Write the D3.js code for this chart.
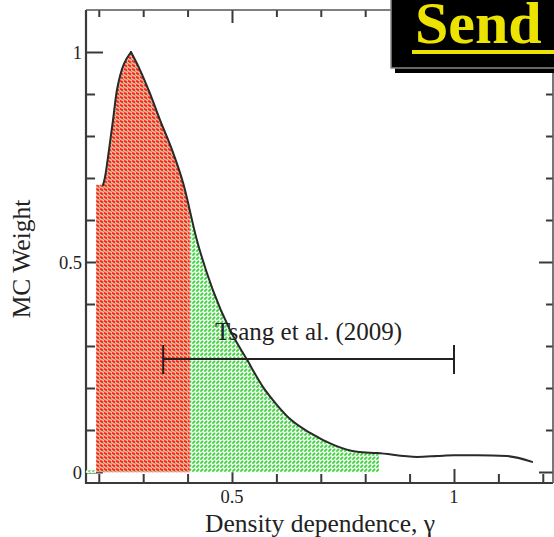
<!DOCTYPE html>
<html>
<head>
<meta charset="utf-8">
<script src="https://cdn.jsdelivr.net/npm/d3@7"></script>
<style>
  html, body { margin: 0; padding: 0; background: #fff; }
  svg { display: block; }
  text { font-family: "Liberation Serif", "DejaVu Serif", serif; }
</style>
</head>
<body>
<svg id="chart" width="554" height="537"></svg>
<script>
// Monte Carlo weight versus density dependence gamma
const gamma  = [0.2095, 0.214, 0.223, 0.232, 0.241, 0.2725, 0.293, 0.315, 0.338, 0.365, 0.390,
                0.421, 0.457, 0.4955, 0.534, 0.570, 0.601, 0.631, 0.676, 0.730, 0.782, 0.827,
                0.917, 0.962, 1.000, 1.052, 1.119, 1.176];
const weight = [0.683, 0.702, 0.767, 0.838, 0.910, 1.000, 0.957, 0.902, 0.838, 0.767, 0.688,
                0.552, 0.433, 0.338, 0.267, 0.202, 0.160, 0.126, 0.093, 0.064, 0.048, 0.045,
                0.036, 0.038, 0.040, 0.040, 0.038, 0.024];

// shaded bands under the curve
const redBand   = [0.194, 0.405];
const greenBand = [0.405, 0.831];
const bandShoulder = 0.683;          // flat top of the first bin
const lowStrip  = [0.171, 0.194, 0.004];

// Tsang et al. (2009) range
const tsangRange = [0.345, 1.0];
const tsangY = 0.269;
const tsangLabel = "Tsang et al. (2009)";

// axis ticks
const xMinorTicks = [0.2, 0.3, 0.4, 0.5, 0.6, 0.7, 0.8, 0.9, 1.0, 1.1, 1.2];
const xMajorTicks = [0.5, 1];
const xTickLabels = ["0.5", "1"];
const yMinorTicks = [0, 0.1, 0.2, 0.3, 0.4, 0.5, 0.6, 0.7, 0.8, 0.9, 1.0];
const yMajorTicks = [0, 0.5, 1];
const yTickLabels = ["0", "0.5", "1"];

const xTitle = "Density dependence, \u03b3";
const yTitle = "MC Weight";
const buttonLabel = "Send";

const svg = d3.select("#chart");
const plotL = 86, plotR = 553, plotT = 10, plotB = 483;

const x = d3.scaleLinear().domain([0.1712, 1.2230]).range([plotL, plotR]);
const y = d3.scaleLinear().domain([-0.0262, 1.1]).range([plotB, plotT]);

// fill textures
const defs = svg.append("defs");
const pg = defs.append("pattern").attr("id", "texGreen")
  .attr("patternUnits", "userSpaceOnUse").attr("width", 4).attr("height", 4);
pg.append("rect").attr("width", 4).attr("height", 4).attr("fill", "#f1fbf1");
pg.append("path").attr("d", "M0.4,3.6 L3,1").attr("stroke", "#3fd43f").attr("stroke-width", 1.8);

const pr = defs.append("pattern").attr("id", "texRed")
  .attr("patternUnits", "userSpaceOnUse").attr("width", 4).attr("height", 4);
pr.append("rect").attr("width", 4).attr("height", 4).attr("fill", "#f3b6a0");
pr.append("path").attr("d", "M0,0.6 L3,2.6").attr("stroke", "#ff2218").attr("stroke-width", 2);
pr.append("rect").attr("x", 3).attr("y", 3).attr("width", 1).attr("height", 1).attr("fill", "#78b85a");
pr.append("rect").attr("x", 0).attr("y", 3).attr("width", 1).attr("height", 1).attr("fill", "#a7c890");

defs.append("clipPath").attr("id", "clipRed").append("rect")
  .attr("x", x(redBand[0])).attr("y", plotT).attr("width", x(redBand[1]) - x(redBand[0])).attr("height", plotB - plotT);
defs.append("clipPath").attr("id", "clipGreen").append("rect")
  .attr("x", x(greenBand[0])).attr("y", plotT).attr("width", x(greenBand[1]) - x(greenBand[0])).attr("height", plotB - plotT);

// curve split at its maximum so the peak stays pointed
const curvePts = gamma.map((g, i) => [g, weight[i]]);
const peakIdx = d3.maxIndex(weight);
const risingPts = curvePts.slice(0, peakIdx + 1);
const fallingPts = curvePts.slice(peakIdx);
const fillRising = [[redBand[0], bandShoulder]].concat(risingPts);

const area = d3.area().x(d => x(d[0])).y0(y(0)).y1(d => y(d[1])).curve(d3.curveMonotoneX);
const line = d3.line().x(d => x(d[0])).y(d => y(d[1])).curve(d3.curveMonotoneX);

// axes: ticks point into the plot
const axisColor = "#3a3a3a";
function tickLen(v, majors, maj, min) { return majors.some(m => Math.abs(m - v) < 1e-9) ? maj : min; }

const bottomAxis = d3.axisBottom(x).tickValues(xMinorTicks).tickFormat("").tickSizeOuter(0);
const gB = svg.append("g").attr("transform", `translate(0,${plotB})`).call(bottomAxis);
gB.selectAll(".tick line").attr("y2", d => -tickLen(d, xMajorTicks, 14, 9));

const topAxis = d3.axisTop(x).tickValues(xMinorTicks).tickFormat("").tickSizeOuter(0);
const gT = svg.append("g").attr("transform", `translate(0,${plotT})`).call(topAxis);
gT.selectAll(".tick line").attr("y2", d => tickLen(d, xMajorTicks, 13, 7));

const leftAxis = d3.axisLeft(y).tickValues(yMinorTicks).tickFormat("").tickSizeOuter(0);
const gL = svg.append("g").attr("transform", `translate(${plotL},0)`).call(leftAxis);
gL.selectAll(".tick line").attr("x2", d => tickLen(d, yMajorTicks, 17, 9));

const rightAxis = d3.axisRight(y).tickValues(yMinorTicks).tickFormat("").tickSizeOuter(0);
const gR = svg.append("g").attr("transform", `translate(${plotR},0)`).call(rightAxis);
gR.selectAll(".tick line").attr("x2", d => -tickLen(d, yMajorTicks, 14, 7));

[gB, gT, gL, gR].forEach(g => {
  g.select(".domain").remove();
  g.selectAll(".tick line").attr("stroke", axisColor).attr("stroke-width", 2);
});

// frame
svg.append("line").attr("x1", plotL).attr("x2", plotL).attr("y1", plotT).attr("y2", plotB + 1)
  .attr("stroke", axisColor).attr("stroke-width", 2.2);
svg.append("line").attr("x1", plotL - 1).attr("x2", plotR).attr("y1", plotB).attr("y2", plotB)
  .attr("stroke", axisColor).attr("stroke-width", 2.2);
svg.append("line").attr("x1", plotL).attr("x2", plotR).attr("y1", plotT).attr("y2", plotT)
  .attr("stroke", "#555").attr("stroke-width", 1.6);
svg.append("line").attr("x1", plotR).attr("x2", plotR).attr("y1", plotT).attr("y2", plotB)
  .attr("stroke", "#555").attr("stroke-width", 1.6);

// shaded regions
svg.append("rect")
  .attr("x", x(lowStrip[0])).attr("y", y(lowStrip[2]))
  .attr("width", x(lowStrip[1]) - x(lowStrip[0])).attr("height", y(0) - y(lowStrip[2]) + 1)
  .attr("fill", "url(#texGreen)");
[["texGreen", "clipGreen"], ["texRed", "clipRed"]].forEach(([tex, clip]) => {
  [fillRising, fallingPts].forEach(pts => {
    svg.append("path").datum(pts).attr("d", area)
      .attr("fill", `url(#${tex})`).attr("clip-path", `url(#${clip})`)
      .attr("stroke", `url(#${tex})`).attr("stroke-width", 0.6);
  });
});

// curve
[risingPts, fallingPts].forEach(pts => {
  svg.append("path").datum(pts).attr("d", line)
    .attr("fill", "none").attr("stroke", "#2a2a2a").attr("stroke-width", 2)
    .attr("stroke-linejoin", "miter").attr("stroke-linecap", "round");
});

// tick labels
const labelColor = "#222";
svg.selectAll(".xlab").data(xMajorTicks).enter().append("text")
  .attr("x", d => x(d)).attr("y", 503).attr("text-anchor", "middle")
  .attr("font-size", 18.5).attr("fill", labelColor).text((d, i) => xTickLabels[i]);
svg.selectAll(".ylab").data(yMajorTicks).enter().append("text")
  .attr("x", 82).attr("y", d => y(d) + 7).attr("text-anchor", "end")
  .attr("font-size", 18.5).attr("fill", labelColor).text((d, i) => yTickLabels[i]);

// axis titles
svg.append("text").attr("x", 320).attr("y", 532).attr("text-anchor", "middle")
  .attr("font-size", 25.5).attr("fill", labelColor).text(xTitle);
svg.append("text").attr("transform", "translate(30,259) rotate(-90)").attr("text-anchor", "middle")
  .attr("font-size", 25.5).attr("fill", labelColor).text(yTitle);

// Tsang et al. range bar
const bar = svg.append("g").attr("stroke", "#222").attr("stroke-width", 2);
bar.append("line").attr("x1", x(tsangRange[0])).attr("x2", x(tsangRange[1]))
  .attr("y1", y(tsangY)).attr("y2", y(tsangY));
tsangRange.forEach(v => {
  bar.append("line").attr("x1", x(v)).attr("x2", x(v))
    .attr("y1", y(tsangY) - 14).attr("y2", y(tsangY) + 15);
});
svg.append("text").attr("x", 215).attr("y", 340).attr("font-size", 25)
  .attr("fill", labelColor).text(tsangLabel);

// Send button
svg.append("rect").attr("x", 395).attr("y", 0).attr("width", 159).attr("height", 73).attr("fill", "#000");
svg.append("rect").attr("x", 391).attr("y", -2).attr("width", 165).attr("height", 70)
  .attr("fill", "#000").attr("stroke", "#8a8a8a").attr("stroke-width", 1.5);
svg.append("text").attr("x", 415).attr("y", 43).attr("font-size", 60).attr("font-weight", "bold")
  .attr("fill", "#ece300").text(buttonLabel);
svg.append("rect").attr("x", 412).attr("y", 50).attr("width", 142).attr("height", 4).attr("fill", "#ece300");
</script>
</body>
</html>
